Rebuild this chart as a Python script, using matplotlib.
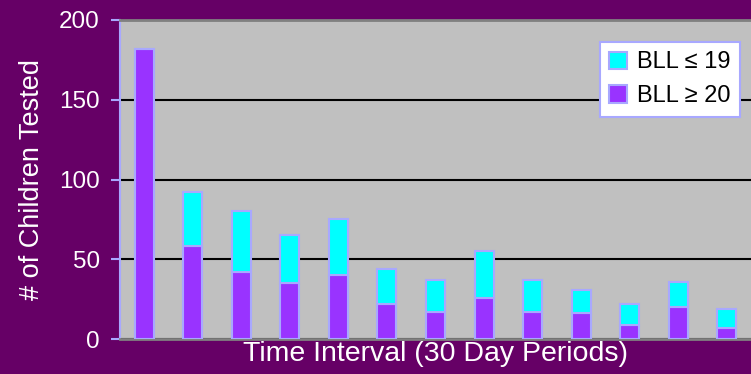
import numpy as np
import matplotlib
matplotlib.use("Agg")
import matplotlib.pyplot as plt

plt.rcParams['font.family'] = ['Liberation Sans', 'DejaVu Sans']

# counts per 30 day period
periods = np.arange(13)
bll_high = [182, 58, 42, 35, 40, 22, 17, 26, 17, 16, 9, 20, 7]     # BLL >= 20
bll_low = [0, 34, 38, 30, 35, 22, 20, 29, 20, 15, 13, 16, 12]      # BLL <= 19
yticks = [0, 50, 100, 150, 200]

bg = '#660066'
edge = '#A8A8FF'

fig = plt.figure(figsize=(7.51, 3.74), dpi=100, facecolor=bg)
ax = fig.add_axes([120/751, 35/374, 631/751, 319/374])
ax.set_facecolor('#C0C0C0')

ax.bar(periods, bll_high, width=0.39, color='#9933FF', edgecolor=edge, linewidth=1.5,
       label='BLL \u2265 20', zorder=3)
ax.bar(periods, bll_low, width=0.39, bottom=bll_high, color='#00FFFF', edgecolor=edge,
       linewidth=1.5, label='BLL \u2264 19', zorder=3)

ax.set_xlim(-0.5, 12.5)
ax.set_ylim(0, 200)
ax.set_yticks(yticks)
ax.set_xticks([])
ax.yaxis.grid(True, color='black', linewidth=1.5, zorder=1)

for s in ['top', 'bottom']:
    ax.spines[s].set_color('#808080')
    ax.spines[s].set_linewidth(2)
ax.spines['right'].set_visible(False)
ax.spines['left'].set_color(edge)
ax.spines['left'].set_linewidth(1.5)
ax.tick_params(axis='y', colors=edge, labelcolor='white', labelsize=17.5, length=6.5,
               width=1.5, pad=8)

ax.set_ylabel('# of Children Tested', color='white', fontsize=19.5)
ax.yaxis.set_label_coords(-0.119, 0.5)
ax.set_xlabel('Time Interval (30 Day Periods)', color='white', fontsize=20.5)
ax.xaxis.set_label_coords(0.5, -0.005)

h, l = ax.get_legend_handles_labels()
leg = ax.legend(h[::-1], l[::-1], loc='upper right', bbox_to_anchor=(0.983, 0.931),
                fontsize=17, fancybox=False, framealpha=1, edgecolor=edge,
                handlelength=0.75, handleheight=0.75, handletextpad=0.45,
                borderpad=0.4, labelspacing=0.5, borderaxespad=0)
leg.get_frame().set_linewidth(1.5)

fig.savefig('out.png', dpi=100, facecolor=bg)
